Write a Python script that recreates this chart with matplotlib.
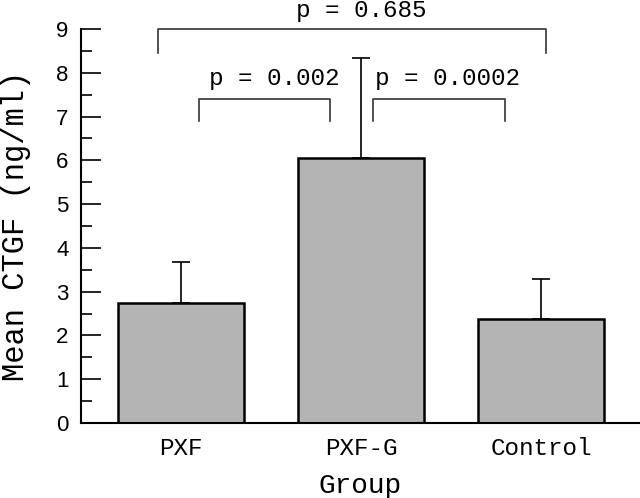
import numpy as np
import matplotlib
matplotlib.use("Agg")
import matplotlib.pyplot as plt

# ---- data ----
groups = ["PXF", "PXF-G", "Control"]
means = [2.74, 6.05, 2.37]
sd_upper = [0.94, 2.28, 0.92]

# comparison brackets: (x_left, x_right, y_top, y_leg_bottom, label)
brackets = [
    (-0.13, 2.03, 9.0, 8.45, "p = 0.685"),
    (0.10, 0.83, 7.41, 6.90, "p = 0.002"),
    (1.065, 1.80, 7.41, 6.90, "p = 0.0002"),
]
label_pos = [(1.0, 9.43), (0.517, 7.87), (1.48, 7.87)]

MONO = ["Liberation Mono", "DejaVu Sans Mono"]

fig = plt.figure(figsize=(6.4, 4.98), dpi=100)
ax = fig.add_axes([81 / 640, 1 - 423 / 498, 559 / 640, 394 / 498])

x = np.arange(len(groups))
ax.bar(x, means, width=0.7, color="#b4b4b4", edgecolor="black", linewidth=1.8, zorder=2)
ax.errorbar(x, means, yerr=[np.zeros(len(x)), sd_upper], fmt="none",
            ecolor="black", elinewidth=1.2, capsize=6.5, capthick=1.2, zorder=3)

for (xl, xr, yt, yb, txt), (tx, ty) in zip(brackets, label_pos):
    ax.plot([xl, xl, xr, xr], [yb, yt, yt, yb], color="#333333", lw=1.2,
            clip_on=False, zorder=4)
    ax.text(tx, ty, txt, ha="center", va="center", fontsize=17.5,
            family=MONO, clip_on=False)

ax.set_xlim(-0.556, 2.55)
ax.set_ylim(0, 9)
ax.set_yticks(range(10))
ax.set_yticks(np.arange(0.5, 9, 1), minor=True)
ax.set_xticks(x)
ax.set_xticklabels(groups, family=MONO, fontsize=17.5)
for lbl in ax.get_yticklabels():
    lbl.set_family(["Liberation Sans", "DejaVu Sans"])
    lbl.set_fontsize(16)

ax.tick_params(axis="y", which="major", direction="in", length=14.5, width=1.2, pad=9)
ax.tick_params(axis="y", which="minor", direction="in", length=8, width=1.2)
ax.tick_params(axis="x", which="major", direction="in", length=14.5, width=1.2, pad=10)

ax.spines["top"].set_visible(False)
ax.spines["right"].set_visible(False)
ax.spines["left"].set_linewidth(1.5)
ax.spines["bottom"].set_linewidth(1.5)

ax.set_ylabel("Mean CTGF (ng/ml)", family=MONO, fontsize=22, labelpad=18)
ax.set_xlabel("Group", family=MONO, fontsize=20, labelpad=9.5)

fig.savefig("out.png", dpi=100)
